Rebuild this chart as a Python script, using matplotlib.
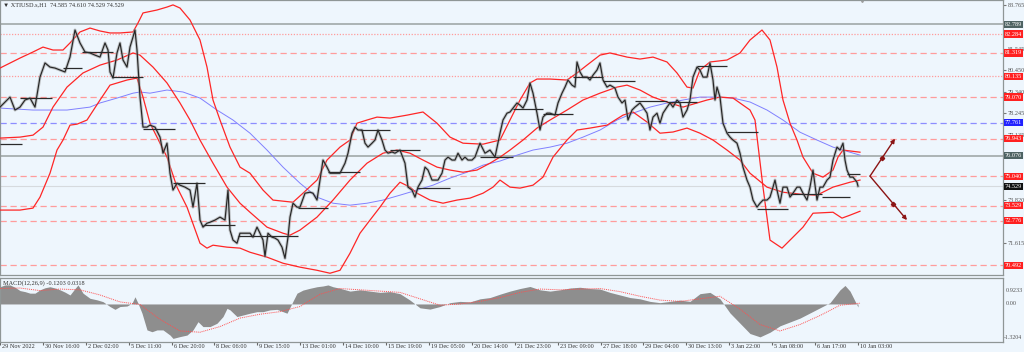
import matplotlib
matplotlib.use('Agg')
import matplotlib.pyplot as plt
import matplotlib.transforms as mtransforms
import numpy as np

plt.rcParams['font.family'] = ['Liberation Serif', 'DejaVu Sans']

# --- price (hourly closes, sampled) ---
price_x = [0, 10, 15, 20, 25, 30, 35, 40, 45, 50, 55, 60, 65, 70, 75, 80, 85, 90, 95, 100,
           105, 108, 110, 113, 117, 120, 123, 127, 130, 133, 135, 137, 140, 143, 147, 150, 155, 160, 163, 167,
           170, 173, 177, 180, 185, 190, 193, 197, 200, 203, 207, 210, 215, 220, 225, 228, 230, 233, 237, 240, 245,
           250, 253, 257, 260, 263, 265, 268, 272, 275, 278, 282, 285, 288, 290, 293, 297, 300, 305, 310, 313,
           317, 320, 323, 327, 330, 335, 340, 345, 348, 352, 355, 358, 362, 365, 368, 372, 375, 378, 382, 385,
           388, 392, 395, 400, 405, 408, 412, 415, 418, 422, 425, 428, 432, 435, 438, 442, 445, 448, 452, 455,
           458, 462, 465, 468, 472, 475, 480, 485, 490, 495,
           500, 503, 507, 510, 513, 517, 520, 523, 527, 530, 533, 537, 540, 543, 547, 550, 555, 558, 562, 565,
           568, 572, 575, 577, 580, 583, 587, 590, 593, 597, 600, 603, 607, 610, 615, 618, 622, 625, 628, 632,
           635, 640, 643, 647, 650, 653, 657, 660, 663, 667, 670, 673, 677, 680, 683, 687, 690, 693, 697, 700,
           703, 707, 710, 713, 715, 717, 720, 723, 727, 730, 733, 737, 740, 743, 747,
           750, 753, 757, 760, 763, 767, 770, 773, 775, 777, 780, 783, 787, 790, 793, 797, 800, 803, 807, 810,
           813, 817, 820, 823, 827, 830, 833, 837, 840, 843, 845, 847, 850, 853, 857, 858]
price_close = [78.56, 79.07, 78.41, 78.56, 78.92, 79.02, 78.56, 80.09, 80.81, 80.60, 80.55, 80.45, 80.35, 81.11, 82.49, 81.83, 81.37, 81.32, 81.21, 81.11,
               81.83, 81.47, 80.35, 80.04, 81.32, 81.83, 80.96, 80.60, 81.62, 82.13, 82.49, 81.47, 79.07, 77.54, 77.54, 77.64, 77.54, 77.03, 76.21, 76.72,
               75.19, 74.33, 74.68, 74.58, 74.48, 74.33, 73.46, 74.68, 72.80, 72.44, 72.64, 72.69, 72.80, 72.95, 72.80, 74.33, 72.29, 71.78, 71.62, 72.13, 72.13,
               72.13, 71.93, 72.44, 72.13, 71.78, 70.95, 72.13, 71.93, 71.88, 71.78, 71.42, 70.85, 71.93, 72.95, 73.66, 73.46, 73.46, 74.17, 74.22, 74.17,
               73.82, 74.84, 75.86, 75.50, 75.19, 75.19, 75.19, 75.70, 76.21, 77.23, 77.54, 77.39, 77.39, 76.72, 76.52, 76.72, 76.88, 77.39, 76.88, 76.37,
               76.21, 76.27, 76.21, 76.37, 75.70, 74.48, 74.33, 73.97, 74.48, 74.84, 75.50, 75.35, 74.84, 74.84, 74.84, 75.19, 75.86, 76.01, 75.86, 75.86,
               76.21, 75.86, 76.01, 75.86, 75.86, 76.01, 76.72, 76.21, 76.37, 76.01,
               77.23, 77.90, 78.25, 78.31, 78.51, 78.77, 78.66, 78.51, 78.92, 79.79, 79.27, 78.25, 77.39, 78.05, 78.25, 78.25, 78.15, 78.77, 79.27, 79.58,
               79.94, 79.68, 79.58, 80.86, 80.35, 80.09, 80.09, 79.94, 80.19, 80.45, 80.81, 79.94, 79.58, 79.68, 79.53, 79.07, 78.77, 78.92, 77.90, 78.41,
               78.56, 78.77, 78.56, 78.25, 77.39, 78.05, 78.25, 77.74, 78.25, 78.56, 78.77, 78.56, 78.92, 78.77, 78.05, 78.41, 78.92, 80.09, 80.60, 80.45,
               80.09, 80.09, 80.81, 79.94, 78.92, 79.58, 79.07, 77.74, 77.23, 77.03, 76.88, 76.72, 76.21, 75.50, 74.84,
               74.48, 73.82, 73.46, 73.66, 73.82, 73.82, 73.97, 74.48, 74.84, 74.33, 73.66, 74.48, 74.48, 73.97, 74.17, 74.48, 74.48, 74.17, 73.82, 74.48,
               75.35, 73.82, 74.48, 74.48, 74.84, 74.99, 75.86, 76.52, 76.37, 76.72, 75.86, 75.35, 74.99, 74.99, 74.73, 74.53]

# --- bollinger-type red bands ---
band1_x = [0, 20, 33, 43, 53, 63, 70, 80, 90, 100, 110, 120, 133, 138, 143, 157, 167, 173, 180, 190,
           200, 207, 213, 220, 230, 240, 250, 263, 273, 293, 303, 317, 327, 340, 350, 357, 367, 377, 390, 407,
           423, 437, 450, 463, 483, 500, 510, 520, 530, 537, 550, 567, 577, 587, 600, 610, 627, 640, 653, 667,
           677, 687, 693, 700, 710, 727, 740, 750, 762, 770, 777, 783, 790, 797, 803, 813, 823, 833, 838, 843, 860]
band1 = [80.55, 81.06, 81.37, 81.62, 81.47, 81.47, 81.83, 82.39, 82.59, 82.44, 82.34, 82.34, 82.39, 82.85, 83.36, 83.51, 83.66, 83.77, 83.61, 83.00,
         81.98, 80.60, 78.92, 77.90, 76.52, 75.50, 75.19, 74.33, 73.82, 73.71, 74.17, 74.84, 75.86, 76.52, 76.88, 77.74, 77.90, 78.05, 78.00, 78.15,
         78.31, 77.74, 77.03, 76.72, 76.67, 76.88, 77.90, 78.92, 79.79, 79.99, 79.99, 79.94, 80.30, 80.70, 81.21, 81.32, 81.11, 81.01, 81.11, 80.86,
         80.30, 79.58, 79.53, 80.45, 80.86, 80.96, 81.32, 81.98, 82.49, 81.98, 80.60, 78.92, 77.74, 76.88, 76.01, 75.19, 74.99, 75.35, 76.01, 76.37, 76.26]

band2_x = [0, 20, 33, 43, 53, 67, 83, 100, 117, 133, 140, 153, 167, 180, 190, 200, 213, 227, 240, 250,
           267, 283, 290, 300, 317, 333, 350, 367, 383, 397, 410, 423, 437, 450, 463, 477, 490, 500, 510, 523,
           537, 550, 567, 583, 600, 617, 627, 640, 653, 667, 683, 697, 707, 720, 733, 750, 755, 763, 770, 782,
           793, 803, 813, 833, 842, 850, 860]
band2 = [76.98, 77.03, 77.13, 77.54, 78.56, 79.58, 80.30, 80.70, 80.96, 81.32, 81.21, 80.60, 79.79, 78.77, 77.90, 76.88, 75.70, 74.48, 73.66, 73.20,
         72.44, 72.13, 72.03, 72.29, 72.95, 73.82, 74.84, 75.70, 76.21, 76.37, 76.21, 75.86, 75.50, 75.35, 75.24, 75.35, 75.70, 76.01, 76.37, 76.88,
         77.49, 77.90, 78.41, 78.92, 79.27, 79.58, 79.68, 79.43, 79.07, 78.82, 78.56, 78.77, 78.92, 79.07, 79.02, 78.41, 77.90, 74.48, 71.78, 71.37,
         71.93, 72.44, 73.15, 73.20, 72.90, 73.05, 73.25]

band3_x = [0, 20, 33, 40, 50, 57, 63, 70, 77, 87, 100, 110, 127, 137, 143, 150, 167, 177, 187, 200,
           207, 213, 227, 240, 250, 267, 283, 300, 317, 330, 340, 350, 360, 370, 380, 390, 400, 410, 417, 430,
           443, 457, 470, 483, 493, 500, 510, 520, 533, 543, 553, 567, 577, 590, 607, 623, 633, 647, 660, 673,
           687, 700, 713, 727, 740, 750, 767, 783, 800, 817, 833, 850, 860]
band3 = [73.31, 73.31, 73.41, 73.97, 75.19, 76.37, 76.88, 77.64, 77.69, 77.90, 78.92, 79.68, 79.94, 80.04, 79.07, 77.74, 76.01, 74.48, 73.46, 71.62,
         71.37, 71.52, 71.42, 71.37, 71.16, 70.91, 70.60, 70.40, 70.24, 70.09, 70.24, 71.11, 72.13, 72.80, 73.46, 74.17, 74.73, 74.48, 74.17, 73.82,
         73.66, 73.82, 73.92, 74.17, 74.48, 74.84, 74.48, 74.43, 74.58, 74.99, 76.01, 76.88, 77.39, 77.49, 77.64, 78.15, 78.31, 77.80, 77.23, 77.29,
         77.49, 77.23, 76.88, 76.37, 75.86, 75.19, 74.48, 74.22, 74.12, 74.07, 74.48, 74.73, 74.84]

# --- blue moving average ---
ma_x = [0, 33, 67, 90, 100, 117, 133, 140, 150, 167, 183, 200, 217, 233, 250, 267, 283, 300, 317, 333,
        350, 367, 383, 400, 417, 433, 450, 467, 483, 500, 517, 533, 550, 567, 583, 600, 617, 633, 650, 667,
        683, 700, 717, 733, 750, 767, 783, 800, 817, 833, 850, 860]
ma = [78.51, 78.41, 78.41, 78.56, 78.77, 79.02, 79.27, 79.33, 79.27, 79.43, 79.33, 79.02, 78.41, 77.90, 77.23, 76.37, 75.50, 74.68, 73.97, 73.66,
      73.56, 73.66, 73.82, 74.07, 74.33, 74.58, 74.94, 75.24, 75.60, 75.81, 76.11, 76.37, 76.52, 76.72, 77.03, 77.39, 77.90, 78.25, 78.56, 78.77,
      78.92, 79.07, 79.07, 79.02, 78.82, 78.41, 77.90, 77.28, 76.88, 76.52, 76.26, 76.11]

# --- daily pivot segments ---
seg_start = [0, 20, 63, 82, 112, 143, 173, 203, 238, 298, 328, 360, 390, 417, 480, 513, 543, 573, 603, 635, 667, 697, 727, 757, 790, 822, 847]
seg_end = [22, 52, 82, 113, 143, 175, 205, 235, 298, 328, 360, 390, 420, 450, 513, 543, 573, 603, 635, 667, 697, 727, 758, 788, 822, 850, 860]
seg_level = [76.67, 79.02, 80.55, 81.37, 80.09, 77.44, 74.68, 72.54, 71.98, 73.41, 75.24, 77.39, 76.37, 74.43, 76.01, 78.46, 78.20, 80.09,
             79.89, 78.87, 78.82, 80.65, 77.29, 73.36, 74.12, 73.97, 75.14]

# --- horizontal levels ---
level_values = [82.789, 82.284, 81.319, 80.135, 79.070, 77.761, 76.943, 76.076, 75.040, 74.529, 73.529, 72.776, 70.492]
level_kinds = ['gray', 'dot', 'dash', 'dot', 'dash', 'blue', 'dash', 'gray', 'dash', 'price', 'dash', 'dash', 'dash']
# scale labels that stay visible beside the level boxes
price_ticks = [83.765, 81.545, 80.450, 79.340, 78.245, 77.135, 73.820, 71.615]

# --- scenario arrows ---
arrow_from = (870, 75.04)
arrow_to = [(895, 76.95), (907, 72.80)]
arrow_marks_x = [882, 893]
arrow_marks_y = [75.96, 73.61]

# --- MACD ---
macd_x = [0, 5, 10, 15, 20, 25, 30, 35, 40, 45, 50, 55, 60, 65, 70, 75, 78, 83, 90, 97,
          103, 110, 115, 120, 127, 132, 135, 138, 142, 147, 152, 157, 163, 170, 173, 180, 187, 193, 198, 203,
          210, 217, 223, 227, 230, 237, 243, 250, 257, 263, 270, 277, 283, 287, 292, 297, 303, 310, 317, 323,
          328, 333, 340, 350, 360, 370, 380, 390, 400, 410, 420, 430, 440, 450, 460, 470, 480, 490, 500, 510,
          520, 530, 540, 550, 560, 570, 580, 590, 600, 610, 620, 630, 640, 650, 660, 670, 680, 690, 700, 710,
          720, 730, 740, 750, 760, 770, 780, 790, 800, 810, 820, 830, 840, 845, 850, 858]
macd_hist = [0.67, 0.74, 0.74, 0.65, 0.52, 0.48, 0.42, 0.42, 0.55, 0.63, 0.67, 0.62, 0.55, 0.46, 0.35, 0.60, 0.74, 0.42, 0.22, 0.16,
             0.09, -0.10, -0.21, -0.10, -0.08, 0.03, 0.28, 0.03, -0.36, -1.01, -1.08, -1.01, -1.01, -1.21, -1.34, -1.27, -1.21, -1.01, -0.69, -0.88,
             -0.88, -0.75, -0.49, -0.17, -0.23, -0.49, -0.43, -0.36, -0.30, -0.30, -0.23, -0.21, -0.30, -0.36, 0.03, 0.42, 0.54, 0.61, 0.67, 0.70,
             0.74, 0.67, 0.61, 0.50, 0.55, 0.50, 0.45, 0.48, 0.40, 0.15, -0.15, -0.20, -0.10, 0.05, 0.10, 0.08, 0.20, 0.25, 0.38, 0.50,
             0.60, 0.68, 0.55, 0.50, 0.55, 0.62, 0.65, 0.60, 0.58, 0.45, 0.35, 0.25, 0.20, 0.10, 0.05, 0.10, 0.15, 0.10, 0.40, 0.45,
             0.20, -0.35, -0.75, -1.15, -1.28, -1.10, -0.85, -0.70, -0.55, -0.35, -0.15, 0.05, 0.55, 0.72, 0.50, -0.12]
sig_x = [0, 20, 40, 60, 80, 100, 120, 140, 160, 180, 200, 220, 240, 260, 280, 300, 320, 340, 360, 380, 400, 420,
         440, 460, 480, 500, 520, 540, 560, 580, 600, 620, 640, 660, 680, 700, 720, 740, 760, 780, 800, 820, 840, 860]
macd_signal = [0.60, 0.62, 0.52, 0.58, 0.55, 0.35, 0.08, -0.02, -0.60, -1.05, -1.10, -0.88, -0.55, -0.40, -0.30, -0.10, 0.38, 0.60, 0.55, 0.50, 0.45, 0.20,
               -0.05, 0.00, 0.10, 0.25, 0.45, 0.58, 0.55, 0.58, 0.60, 0.48, 0.30, 0.15, 0.10, 0.20, 0.30, -0.20, -0.80, -1.05, -0.80, -0.45, -0.05, 0.03]

date_labels = ['29 Nov 2022', '30 Nov 16:00', '2 Dec 02:00', '5 Dec 11:00', '6 Dec 20:00', '8 Dec 06:00', '9 Dec 15:00',
               '13 Dec 01:00', '14 Dec 10:00', '15 Dec 19:00', '19 Dec 05:00', '20 Dec 14:00', '21 Dec 23:00',
               '23 Dec 09:00', '27 Dec 18:00', '29 Dec 04:00', '30 Dec 13:00', '3 Jan 22:00', '5 Jan 08:00',
               '6 Jan 17:00', '10 Jan 03:00']

BG = '#eef6fd'
RED = '#ff2626'
FS = 4.5

fig = plt.figure(figsize=(10.24, 3.52), dpi=100)
fig.patch.set_facecolor(BG)
ax = fig.add_axes([0, 77 / 352, 1003 / 1024, 275 / 352])
ax2 = fig.add_axes([0, 10 / 352, 1003 / 1024, 64 / 352])

for a in (ax, ax2):
    a.set_facecolor(BG)
    a.set_xlim(0, 1003)
    for s in a.spines.values():
        s.set_color('#8f9696')
        s.set_linewidth(0.9)
ax.set_ylim(70.0, 84.02)
ax2.set_ylim(-1.48, 1.01)

# horizontal levels
styles = {
    'gray': dict(color='#a6afaf', lw=1.3, ls='-'),
    'dot': dict(color='#ff9c9c', lw=0.9, ls=(0, (1, 1.3))),
    'dash': dict(color='#ff9c9c', lw=0.9, ls=(0, (5, 3))),
    'blue': dict(color='#8d8dff', lw=0.9, ls=(0, (5, 3))),
    'price': dict(color='#d6dade', lw=0.8, ls='-'),
}
box_colors = {'gray': '#4e6363', 'dot': '#ff2020', 'dash': '#ff2020', 'blue': '#2020ff', 'price': '#111111'}
for v, k in zip(level_values, level_kinds):
    ax.axhline(v, zorder=1, **styles[k])

# bands and MA
ax.plot(ma_x, ma, color='#8080ff', lw=0.7, zorder=2)
for bx, by in ((band1_x, band1), (band2_x, band2), (band3_x, band3)):
    ax.plot(bx, by, color=RED, lw=0.9, zorder=3)

# price
ax.plot(price_x, price_close, color='#9a9a9a', lw=2.2, alpha=0.55, zorder=4)
ax.plot(price_x, price_close, color='#262626', lw=0.85, zorder=5)
ax.hlines(seg_level, seg_start, seg_end, color='#2a2a2a', lw=0.9, zorder=5)

# arrows
for tx, ty in arrow_to:
    ax.annotate('', xy=(tx, ty), xytext=arrow_from,
                arrowprops=dict(arrowstyle='-|>', color='#8b1414', lw=1.0, mutation_scale=6,
                                shrinkA=0, shrinkB=0), zorder=6)
ax.plot(arrow_marks_x, arrow_marks_y, 'D', color='#8b1414', ms=2.2, zorder=6)
ax.plot([862], [84.0], marker='v', color='#a0a0a0', ms=3, clip_on=False)

# right price scale
ax.yaxis.tick_right()
ax.set_yticks(price_ticks)
ax.set_yticklabels([f'{t:.3f}' for t in price_ticks])
ax.tick_params(axis='y', labelsize=FS, labelcolor='#555555', color='#777777', length=2, pad=1.5)
ax.set_xticks([])
trans = mtransforms.blended_transform_factory(ax.transAxes, ax.transData)
for v, k in zip(level_values, level_kinds):
    ax.text(1.002, v, f'{v:.3f}', transform=trans, fontsize=FS, color='white', va='center', ha='left',
            clip_on=False, zorder=10,
            bbox=dict(boxstyle='square,pad=0.18', fc=box_colors[k], ec='none'))

ax.text(0.003, 0.992, '\u25bc XTIUSD.s,H1  74.585 74.610 74.529 74.529', transform=ax.transAxes,
        fontsize=FS, color='#333333', va='top', ha='left', family=['Liberation Serif', 'DejaVu Sans'])

# MACD panel
ax2.fill_between(macd_x, 0, macd_hist, color='#8e8e8e', lw=0, zorder=2)
ax2.plot(sig_x, macd_signal, color='#ff5050', lw=0.7, ls=(0, (1, 1)), zorder=3)
ax2.set_yticks([])
ax2.text(0.003, 0.97, 'MACD(12,26,9) -0.1203 0.0318', transform=ax2.transAxes, fontsize=FS,
         color='#333333', va='top', ha='left')
trans2 = mtransforms.blended_transform_factory(ax2.transAxes, ax2.transData)
ax2.text(1.003, 0.81, '0.9233', transform=ax2.transAxes, fontsize=FS, color='#555555', va='center', clip_on=False)
ax2.text(1.003, 0.0, '0.00', transform=trans2, fontsize=FS, color='#555555', va='center', clip_on=False)
ax2.text(1.001, -1.3204, '-1.3204', transform=trans2, fontsize=FS - 0.3, color='#555555', va='center', clip_on=False)

tick_pos = np.arange(len(date_labels)) * 42.9
ax2.set_xticks(tick_pos)
ax2.set_xticklabels([])
ax2.tick_params(axis='x', direction='out', length=2, color='#666666')
trans3 = mtransforms.blended_transform_factory(ax2.transData, ax2.transAxes)
for p, lab in zip(tick_pos, date_labels):
    ax2.text(p + 2, -0.065, lab, transform=trans3, fontsize=FS, color='#333333', va='center', ha='left',
             clip_on=False)

fig.savefig('out.png', dpi=100, facecolor=BG)
